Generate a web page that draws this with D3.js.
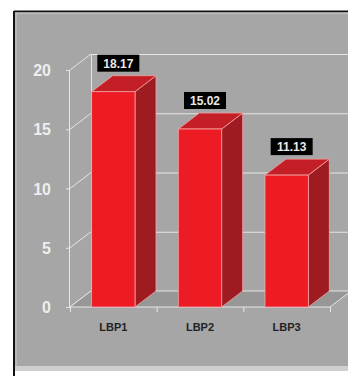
<!DOCTYPE html>
<html><head><meta charset="utf-8">
<script src="https://cdn.jsdelivr.net/npm/d3@7"></script>
<style>html,body{margin:0;padding:0;background:#fff;}svg{display:block;}</style>
</head><body>
<script>
const categories = ["LBP1", "LBP2", "LBP3"];
const values = [18.17, 15.02, 11.13];
const yTicks = [0, 5, 10, 15, 20];

const W = 348, H = 376;
const DX = 21, DY = -16;
const svg = d3.select("body").append("svg").attr("width", W).attr("height", H);

// panel
svg.append("rect").attr("x", 14).attr("y", 11).attr("width", W).attr("height", 356).attr("fill", "#a6a6a6");
svg.append("rect").attr("x", 15).attr("y", 366).attr("width", W).attr("height", 5).attr("fill", "#cfcfcf");
svg.append("line").attr("x1", 14).attr("x2", W).attr("y1", 11.5).attr("y2", 11.5).attr("stroke", "#111").attr("stroke-width", 2);
svg.append("line").attr("x1", 14).attr("x2", 14).attr("y1", 11).attr("y2", H).attr("stroke", "#111").attr("stroke-width", 2);
svg.append("line").attr("x1", 15).attr("x2", W).attr("y1", 13).attr("y2", 13).attr("stroke", "#d8d8d8").attr("stroke-width", 1);
svg.append("line").attr("x1", 16).attr("x2", 16).attr("y1", 13).attr("y2", 366).attr("stroke", "#c8c8c8").attr("stroke-width", 1);

const x = d3.scaleBand().domain(categories).range([70, 330]).paddingInner(0.5).paddingOuter(0.25);
const y = d3.scaleLinear().domain([0, 20]).range([307, 70]);
const x0 = 70, x1 = 330;
const gridCol = "#e6e6e6";

// back wall grid
const g = svg.append("g");
g.selectAll("line.back").data(yTicks).enter().append("line")
  .attr("x1", x0 + DX).attr("x2", W).attr("y1", d => y(d) + DY + 0.5).attr("y2", d => y(d) + DY + 0.5)
  .attr("stroke", gridCol).attr("stroke-width", 1);
g.append("line").attr("x1", x0 + DX + 0.5).attr("x2", x0 + DX + 0.5).attr("y1", y(20) + DY).attr("y2", y(0) + DY)
  .attr("stroke", gridCol);
// left wall diagonals
g.selectAll("line.diag").data(yTicks).enter().append("line")
  .attr("x1", x0).attr("x2", x0 + DX).attr("y1", d => y(d)).attr("y2", d => y(d) + DY)
  .attr("stroke", gridCol);
// floor
g.append("polygon")
  .attr("points", [[x0, y(0)], [x1, y(0)], [x1 + DX, y(0) + DY], [x0 + DX, y(0) + DY]].map(p => p.join(",")).join(" "))
  .attr("fill", "#979797").attr("stroke", gridCol).attr("stroke-width", 1);
// front axis
g.append("line").attr("x1", x0 - 0.5).attr("x2", x0 - 0.5).attr("y1", y(20)).attr("y2", y(0)).attr("stroke", gridCol);
g.selectAll("line.tk").data(yTicks).enter().append("line")
  .attr("x1", x0 - 4).attr("x2", x0).attr("y1", d => y(d) + 0.5).attr("y2", d => y(d) + 0.5).attr("stroke", gridCol);
// bottom ticks at band boundaries
const bounds = [x0].concat(categories.map(c => x(c) + x.bandwidth() + x.step() * 0.25));
g.selectAll("line.bt").data(bounds).enter().append("line")
  .attr("x1", d => d + 0.5).attr("x2", d => d + 0.5).attr("y1", y(0)).attr("y2", y(0) + 5).attr("stroke", gridCol);

// y labels
svg.selectAll("text.yl").data(yTicks).enter().append("text")
  .attr("x", 51).attr("y", d => y(d) + 6).attr("text-anchor", "end")
  .attr("font-family", "Liberation Sans, Arial, sans-serif").attr("font-weight", "bold").attr("font-size", 16)
  .attr("fill", "#eeeeee").text(d => d);

// bars
const bw = x.bandwidth();
const bars = svg.selectAll("g.bar").data(categories.map((c, i) => ({c, v: values[i]}))).enter().append("g");
const edge = "#f2a3a3";
bars.append("polygon")
  .attr("points", d => { const l = x(d.c) + bw, t = y(d.v), b = y(0);
    return [[l, t], [l + DX, t + DY], [l + DX, b + DY], [l, b]].map(p => p.join(",")).join(" "); })
  .attr("fill", "#9d1b21").attr("stroke", edge).attr("stroke-width", 0.8);
bars.append("polygon")
  .attr("points", d => { const l = x(d.c), t = y(d.v);
    return [[l, t], [l + bw, t], [l + bw + DX, t + DY], [l + DX, t + DY]].map(p => p.join(",")).join(" "); })
  .attr("fill", "#c41f27").attr("stroke", edge).attr("stroke-width", 0.8);
bars.append("rect")
  .attr("x", d => x(d.c)).attr("y", d => y(d.v)).attr("width", bw).attr("height", d => y(0) - y(d.v))
  .attr("fill", "#ed1c24").attr("stroke", edge).attr("stroke-width", 0.8);

// value boxes
const bxW = 42, bxH = 17;
bars.append("rect")
  .attr("x", d => x(d.c) + bw / 2 + 5 - bxW / 2).attr("y", d => y(d.v) - 37)
  .attr("width", bxW).attr("height", bxH).attr("fill", "#000");
bars.append("text")
  .attr("x", d => x(d.c) + bw / 2 + 5).attr("y", d => y(d.v) - 37 + 13)
  .attr("text-anchor", "middle").attr("font-family", "Liberation Sans, Arial, sans-serif")
  .attr("font-weight", "bold").attr("font-size", 12).attr("fill", "#e8e8e8").text(d => d.v.toFixed(2));

// category labels
svg.selectAll("text.cl").data(categories).enter().append("text")
  .attr("x", d => x(d) + bw / 2).attr("y", 331).attr("text-anchor", "middle")
  .attr("font-family", "Liberation Sans, Arial, sans-serif").attr("font-weight", "bold").attr("font-size", 11)
  .attr("fill", "#222").text(d => d);
</script>
</body></html>
